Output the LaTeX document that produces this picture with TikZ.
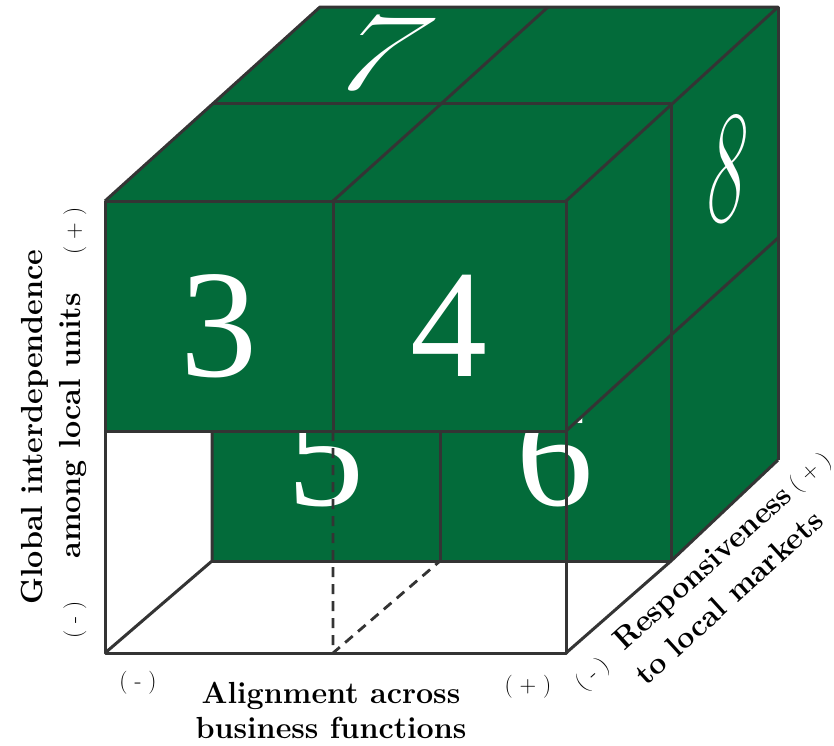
\documentclass[tikz,border=0pt]{standalone}
\usepackage{fontspec}
\newfontfamily\numfont{Liberation Serif}
\definecolor{cubegreen}{RGB}{3,107,58}
\definecolor{edgegray}{RGB}{52,52,52}
\begin{document}
\begin{tikzpicture}[x=1pt,y=-1pt,
  edgeline/.style={draw=edgegray,line width=3pt,line join=round},
  hiddenline/.style={edgeline,line width=2.8pt,dash pattern=on 10pt off 7pt},
  bignum/.style={text=white,font=\numfont\fontsize{154}{154}\selectfont,inner sep=0pt,anchor=base},
  thinnum/.style={text=white,font=\normalfont\fontsize{162}{162}\selectfont,inner sep=0pt,anchor=base},
  axislabel/.style={font=\fontsize{30.5}{30.5}\selectfont\bfseries,inner sep=0pt,anchor=base},
  signlabel/.style={font=\fontsize{23}{23}\selectfont,inner sep=0pt,anchor=center}]
\useasboundingbox (0,0) rectangle (834,745);
% front plane
\coordinate (FTL) at (105,201); \coordinate (FTM) at (333,201); \coordinate (FTR) at (566,201);
\coordinate (FML) at (105,431); \coordinate (FMM) at (333,431); \coordinate (FMR) at (566,431);
\coordinate (FBL) at (105,653); \coordinate (FBM) at (333,653); \coordinate (FBR) at (566,653);
% middle plane
\coordinate (MTL) at (212,103); \coordinate (MTM) at (442,103); \coordinate (MTR) at (671,103);
\coordinate (MML) at (212,334); \coordinate (MMR) at (671,335);
\coordinate (MLL) at (212,431); \coordinate (MLM) at (440,431);
\coordinate (MBL) at (212,561); \coordinate (MBM) at (440,561); \coordinate (MBR) at (671,561);
% back plane
\coordinate (BTL) at (320,7); \coordinate (BTM) at (548,7); \coordinate (BTR) at (778,7);
\coordinate (BMR) at (778,238); \coordinate (BBR) at (778,460);

% back lower blocks (5, 6)
\fill[cubegreen] (MML) rectangle (MBR);
\node[bignum] (n5) at (326,505) {5};
\node[bignum] (n6) at (555,505) {6};
% right side faces
\fill[cubegreen] (MMR) -- (BMR) -- (BBR) -- (MBR) -- cycle;
\fill[cubegreen] (MTR) -- (BTR) -- (BMR) -- (MMR) -- cycle;
\fill[cubegreen] (FTR) -- (MTR) -- (MMR) -- (FMR) -- cycle;
% top face
\fill[cubegreen] (FTL) -- (BTL) -- (BTR) -- (FTR) -- cycle;
% front upper blocks
\fill[cubegreen] (FTL) rectangle (FMR);

\node[bignum] (n3) at (219,376) {3};
\node[bignum] (n4) at (449,376) {4};
\node[thinnum,xslant=0.6,yscale=0.68] (n7) at (358,89) {7};
\node[thinnum,xslant=0.14,xscale=0.46] (n8) at (722,221) {8};

% edges
\draw[edgeline] (FTL) rectangle (FMR);
\draw[edgeline] (FTM) -- (FMM);
\draw[edgeline] (FTL) -- (BTL) -- (BTR) -- (FTR);
\draw[edgeline] (FTM) -- (MTM) -- (BTM);
\draw[edgeline] (MTL) -- (MTR);
\draw[edgeline] (MTR) -- (MBR);
\draw[edgeline] (BTR) -- (BBR);
\draw[edgeline] (FMR) -- (MMR) -- (BMR);
\draw[edgeline] (FBR) -- (MBR) -- (BBR);
\draw[edgeline] (FML) -- (FBL) -- (FBR) -- (FMR);
\draw[edgeline] (FBL) -- (MBL) -- (MLL);
\draw[edgeline] (MBL) -- (MBR);
\draw[edgeline] (MLM) -- (MBM);
\draw[hiddenline] (FMM) -- (FBM) -- (MBM);

% bottom axis
\node[axislabel] (al1) at (331,703) {Alignment across};
\node[axislabel] (al2) at (331,738) {business functions};
\node[signlabel] (bminus) at (138,683) {( - )};
\node[signlabel] (bplus) at (528,687) {( + )};

% left axis
\node[axislabel,rotate=90] (gl1) at (42,427) {Global interdependence};
\node[axislabel,rotate=90] (gl2) at (80,426) {among local units};
\node[signlabel,rotate=90] (lplus) at (75,231) {( + )};
\node[signlabel,rotate=90] (lminus) at (75,620) {( - )};

% depth axis
\node[axislabel,rotate=42.3] (rl1) at (709,575) {Responsiveness};
\node[axislabel,rotate=42.3] (rl2) at (736,605) {to local markets};
\node[signlabel,rotate=42.3] (rminus) at (593,675) {( - )};
\node[signlabel,rotate=42.3] (rplus) at (811,473) {( + )};
\end{tikzpicture}
\end{document}
